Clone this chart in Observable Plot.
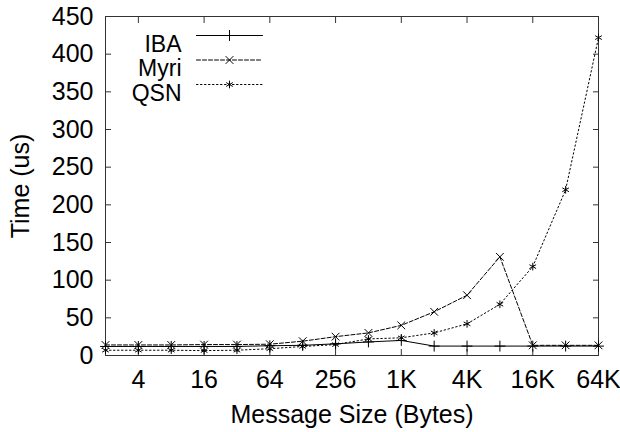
<!DOCTYPE html>
<html><head><meta charset="utf-8">
<script src="https://cdn.jsdelivr.net/npm/d3@7"></script>
<script src="https://cdn.jsdelivr.net/npm/@observablehq/plot@0.6"></script>
<style>
body{margin:0;background:#fff;}
#wrap{width:620px;height:432px;}
</style></head><body><div id="wrap"></div>
<script>
// ---- data ----
const sizes = [2,4,8,16,32,64,128,256,512,1024,2048,4096,8192,16384,32768,65536];
const iba  = [12,12,12,12,12,13,13.5,15.5,18,20,12.5,12.5,12.5,12.5,12.5,12.5];
const myri = [14,14,14,14.5,14.5,15,19,25,30,40,58,80,131,13.5,13.5,13.5];
const qsn  = [7,7,7,6.5,7,9,12,14.5,22,23.5,30,42,68,118,220,422];
const seriesNames = ["IBA","Myri","QSN"];
const xTicks = [4,16,64,256,1024,4096,16384,65536];
const xTickLabels = ["4","16","64","256","1K","4K","16K","64K"];
const yTicks = [0,50,100,150,200,250,300,350,400,450];

const values = {IBA: iba, Myri: myri, QSN: qsn};
const rows = seriesNames.flatMap(name => sizes.map((s, i) => ({series: name, size: s, time: values[name][i]})));

const font = "'Liberation Sans', Arial, Helvetica, sans-serif";
const fs = 25;
const legendFs = 23;
const styles = {
  IBA:  {dash: null,      symbol: "plus"},
  Myri: {dash: "4,2",     symbol: "times"},
  QSN:  {dash: "1.5,2.5", symbol: "asterisk"}
};
const lineShape = {draw(ctx, l) { ctx.moveTo(0, 0); ctx.lineTo(0, -l); }};
const frameCol = "#333";

const marks = [];
for (const name of seriesNames) {
  const d = rows.filter(r => r.series === name);
  marks.push(Plot.line(d, {x: "size", y: "time", stroke: "black", strokeWidth: 1, strokeDasharray: styles[name].dash}));
  marks.push(Plot.dot(d, {x: "size", y: "time", symbol: styles[name].symbol, r: 3.6, stroke: "black", strokeWidth: 1}));
}
// legend (inside frame, top-left)
seriesNames.forEach((name, i) => {
  const dy = 19 + i * 24.5;
  marks.push(Plot.text([name], {text: d => d, frameAnchor: "top-left", dx: 76, dy, textAnchor: "end", fontSize: legendFs, fill: "black"}));
  marks.push(Plot.vector([name], {frameAnchor: "top-left", dx: 91, dy, length: 66, rotate: 90, anchor: "start", shape: lineShape, stroke: "black", strokeWidth: 1, strokeDasharray: styles[name].dash}));
  marks.push(Plot.dot([name], {frameAnchor: "top-left", dx: 124, dy, symbol: styles[name].symbol, r: 3.6, stroke: "black", strokeWidth: 1}));
});

const chart = Plot.plot({
  width: 620, height: 432,
  marginLeft: 105, marginRight: 22, marginTop: 16, marginBottom: 77,
  x: {type: "log", base: 2, domain: [2, 65536]},
  y: {domain: [0, 450]},
  style: {fontFamily: font, fontSize: fs + "px", background: "white", color: "black"},
  marks: [
    // inward ticks on all four sides
    Plot.axisX(xTicks, {anchor: "bottom", tickSize: 6, dy: -6, fill: "none", label: null, stroke: frameCol}),
    Plot.axisX(xTicks, {anchor: "top", tickSize: 6, dy: 6, fill: "none", label: null, stroke: frameCol}),
    Plot.axisY(yTicks, {anchor: "left", tickSize: 6, dx: 6, fill: "none", label: null, stroke: frameCol}),
    Plot.axisY(yTicks, {anchor: "right", tickSize: 6, dx: -6, fill: "none", label: null, stroke: frameCol}),
    // labels
    Plot.axisX(xTicks, {anchor: "bottom", tickSize: 0, tickPadding: 15, fontSize: fs,
      tickFormat: d => xTickLabels[xTicks.indexOf(d)],
      label: "Message Size (Bytes)", labelAnchor: "center", labelOffset: 67, labelArrow: "none"}),
    Plot.axisY(yTicks, {anchor: "left", tickSize: 0, tickPadding: 12, fontSize: fs,
      label: "Time (us)", labelAnchor: "center", labelOffset: 94, labelArrow: "none"}),
    Plot.frame({stroke: frameCol, strokeWidth: 1}),
    ...marks
  ]
});
document.getElementById("wrap").appendChild(chart);
</script>
</body></html>
